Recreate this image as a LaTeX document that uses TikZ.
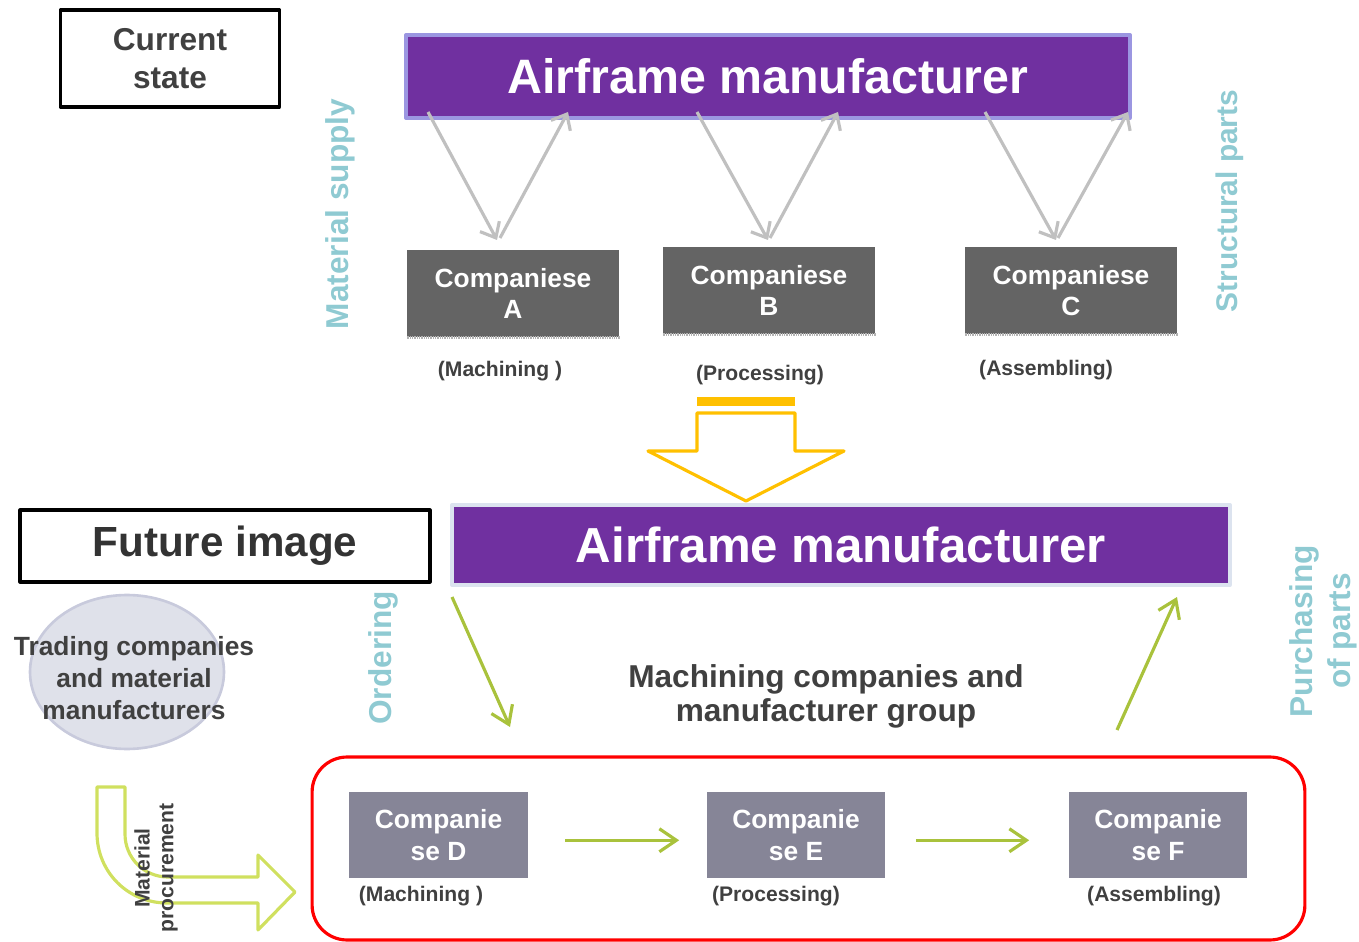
\documentclass[tikz,border=0pt]{standalone}
\usepackage{fontspec}
\setmainfont{Liberation Sans}
\usetikzlibrary{arrows.meta,shapes.geometric}
\definecolor{airpurple}{RGB}{112,48,160}
\definecolor{barrim}{RGB}{155,150,225}
\definecolor{barrimlight}{RGB}{220,227,239}
\definecolor{darkco}{RGB}{100,100,100}
\definecolor{greyco}{RGB}{134,133,151}
\definecolor{textgrey}{RGB}{64,64,64}
\definecolor{tealtext}{RGB}{143,202,210}
\definecolor{flowgrey}{RGB}{192,192,192}
\definecolor{flowgreen}{RGB}{169,194,60}
\definecolor{bendgreen}{RGB}{208,224,95}
\definecolor{downyellow}{RGB}{255,192,0}
\definecolor{ellfill}{RGB}{223,225,234}
\definecolor{ellrim}{RGB}{200,202,220}
\tikzset{
   statebox/.style={draw=black, line width=1.8pt, align=center, text=textgrey, font=\bfseries},
   airbar/.style={fill=airpurple, line width=2pt, text=white, font=\bfseries},
   cobox/.style={fill=#1, text=white, align=center, minimum width=4.24cm, minimum height=1.74cm,
      font=\bfseries\fontsize{15}{18}\selectfont},
   jobtext/.style={text=textgrey, font=\bfseries\fontsize{12}{14}\selectfont},
   sidetext/.style={text=tealtext, rotate=90, align=center, font=\bfseries\fontsize{18}{21.5}\selectfont},
   flowline/.style={draw=flowgrey, line width=1.8pt, -{Straight Barb[length=2.6mm,width=4.4mm]}},
   greenline/.style={draw=flowgreen, line width=1.8pt, -{Straight Barb[length=3.4mm,width=4.6mm]}}
}
\begin{document}
\begin{tikzpicture}[x=0.02cm, y=-0.02cm, line join=round]
   \useasboundingbox (0,0) rectangle (1359,942);
   % current state
   \node[statebox, minimum width=4.38cm, minimum height=1.94cm,
      font=\bfseries\fontsize{18}{21.5}\selectfont] (cur) at (170,58.5) {Current\\state};
   \node[airbar, draw=barrim, minimum width=14.48cm, minimum height=1.66cm,
      font=\bfseries\fontsize{27.5}{32}\selectfont] (topbar) at (768,76.5) {Airframe manufacturer};
   \def \TopCos {
      A/513/293.5/500/371/{(Machining )},
      B/769/290.5/760/375/{(Processing)},
      C/1071/290.5/1046/370/{(Assembling)}}
   \foreach \n / \x / \y / \lx / \ly / \job in \TopCos {
      \node[cobox=darkco] (co\n) at (\x,\y) {Companiese\\\n};
      \draw[draw=gray!60, line width=1.6pt, dash pattern=on 0.5pt off 0.5pt]
         (co\n.south west) -- (co\n.south east);
      \node[jobtext] (job\n) at (\lx,\ly) {\job};
   }
   \def \Links {
      1/428/112/497/240,
      2/500/238/568/112,
      3/697/112/768/240,
      4/770/238/838/112,
      5/985/112/1056/240,
      6/1058/238/1128/112}
   \foreach \i / \ax / \ay / \bx / \by in \Links {
      \coordinate (from\i) at (\ax,\ay);
      \coordinate (to\i) at (\bx,\by);
      \draw[flowline] (from\i) -- (to\i);
   }
   \node[sidetext] (supply) at (340,214) {Material supply};
   \node[sidetext, font=\bfseries\fontsize{17}{20}\selectfont] (parts) at (1230,201) {Structural parts};
   % change arrow
   \fill[downyellow] (697,397) rectangle (795,406);
   \draw[downyellow, line width=1.8pt] (697,413) -- (697,451) -- (648,451) -- (746,501)
      -- (844,451) -- (795,451) -- (795,413) -- cycle;
   % future image
   \node[statebox, minimum width=8.2cm, minimum height=1.44cm,
      font=\bfseries\fontsize{24}{28}\selectfont, text=black!80] (fut) at (225,546) {Future image};
   \node[airbar, draw=barrimlight, minimum width=15.56cm, minimum height=1.6cm,
      font=\bfseries\fontsize{28}{32}\selectfont] (botbar) at (841,545) {Airframe manufacturer};
   \node[ellipse, draw=ellrim, fill=ellfill, line width=1.5pt, minimum width=3.88cm,
      minimum height=3.08cm] (trade) at (127,672) {};
   \node[text=textgrey, align=center, font=\bfseries\fontsize{15}{18}\selectfont]
      (tradetext) at (134,678) {Trading companies\\and material\\manufacturers};
   \node[sidetext] (order) at (383,658) {Ordering};
   \node[sidetext] (purchase) at (1323,631) {Purchasing\\of parts};
   \node[text=textgrey, align=center, font=\bfseries\fontsize{18}{19.3}\selectfont]
      (group) at (826,696) {Machining companies and\\manufacturer group};
   \coordinate (ordfrom) at (452,597);
   \coordinate (ordto) at (510,727);
   \coordinate (purfrom) at (1117,730);
   \coordinate (purto) at (1177,597);
   \draw[greenline] (ordfrom) -- (ordto);
   \draw[greenline] (purfrom) -- (purto);
   \node[draw=red, line width=1.8pt, rounded corners=0.7cm, minimum width=19.86cm,
      minimum height=3.66cm] (grpbox) at (808.5,848.5) {};
   \def \LowCos {
      D/438.5/835/421/896/{(Machining )},
      E/796/835/776/896/{(Processing)},
      F/1158/835/1154/896/{(Assembling)}}
   \foreach \n / \x / \y / \lx / \ly / \job in \LowCos {
      \node[cobox=greyco, minimum width=3.58cm, minimum height=1.72cm] (co\n) at (\x,\y) {Companie\\se \n};
      \node[jobtext] (job\n) at (\lx,\ly) {\job};
   }
   \draw[greenline, shorten <=0.74cm, shorten >=0.54cm] ([yshift=-3pt]coD.east) -- ([yshift=-3pt]coE.west);
   \draw[greenline, shorten <=0.6cm, shorten >=0.78cm] ([yshift=-3pt]coE.east) -- ([yshift=-3pt]coF.west);
   % material procurement
   \draw[bendgreen, line width=1.8pt] (97,787) -- (125,787) -- (125,834)
      .. controls (125,858) and (144,877) .. (168,877) -- (258,877) -- (258,855) -- (295,892)
      -- (258,930) -- (258,903) -- (167,903) .. controls (128,903) and (97,872) .. (97,833) -- cycle;
   \node[text=textgrey, rotate=90, align=center, font=\bfseries\fontsize{12}{13.5}\selectfont]
      (procure) at (156,868) {Material\\procurement};
\end{tikzpicture}
\end{document}
